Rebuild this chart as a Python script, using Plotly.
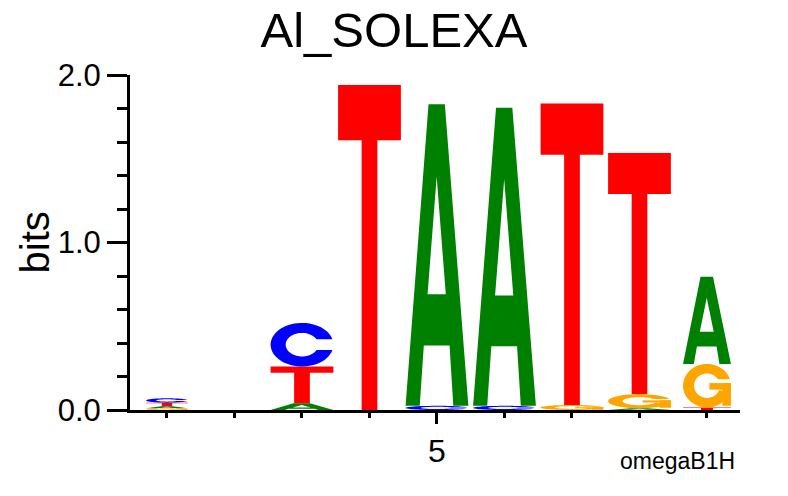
import numpy as np
import plotly.graph_objects as go

# ---------------- data ----------------
positions = [1, 2, 3, 4, 5, 6, 7, 8, 9]
col_width = [0.62, 0.93, 0.93, 0.93, 0.93, 0.93, 0.93, 0.93, 0.71]
bits_A = [0.012, 0.0, 0.040, 0.0, 1.800, 1.780, 0.0, 0.010, 0.520]
bits_C = [0.026, 0.0, 0.260, 0.0, 0.025, 0.025, 0.0, 0.0, 0.0]
bits_G = [0.010, 0.0, 0.0, 0.0, 0.0, 0.0, 0.030, 0.085, 0.260]
bits_T = [0.022, 0.0, 0.220, 1.940, 0.0, 0.0, 1.800, 1.440, 0.015]
letter_colors = {"A": "#008000", "C": "#0000FF", "G": "#FFA500", "T": "#FF0000"}
title_text = "Al_SOLEXA"
y_ticks = [0.0, 1.0, 2.0]
x_label_ticks = [5]
footer = "omegaB1H"

# ---------------- glyph outlines in a unit box ----------------
def ring(a0, a1, rx_o, ry_o, rx_i, ry_i, ti0, ti1, n=60):
    to = np.linspace(a0, a1, n)
    ti = np.linspace(ti1, ti0, n)
    pts = [(0.5 + rx_o * np.cos(t), 0.5 + ry_o * np.sin(t)) for t in to]
    pts += [(0.5 + rx_i * np.cos(t), 0.5 + ry_i * np.sin(t)) for t in ti]
    return pts

def glyph(letter):
    if letter == "T":
        return [[[(0, 1), (1, 1), (1, 0.83), (0.625, 0.83), (0.625, 0),
                  (0.375, 0), (0.375, 0.83), (0, 0.83)]]]
    if letter == "A":
        outer = [(0, 0), (0.365, 1), (0.625, 1), (1, 0), (0.76, 0), (0.70, 0.20),
                 (0.29, 0.20), (0.225, 0)]
        hole = [(0.495, 0.76), (0.35, 0.37), (0.64, 0.37)]
        return [[outer, hole]]
    if letter == "C":
        g = 0.125
        ro, ri_x, ri_y = 0.5, 0.26, 0.27
        a0 = np.arcsin(g / ro)
        b0 = np.arcsin(g / ri_y)
        return [[ring(a0, 2 * np.pi - a0, ro, ro, ri_x, ri_y, b0, 2 * np.pi - b0)]]
    if letter == "G":
        g = 0.15
        ro, ri_x, ri_y = 0.5, 0.27, 0.28
        a0 = np.arcsin(g / ro)
        b0 = np.arcsin(g / ri_y)
        end = 2 * np.pi - 0.35
        r = ring(a0, end, ro, ro, ri_x, ri_y, b0, end)
        bar = [(0.55, 0.41), (1.0, 0.41), (1.0, 0.56), (0.55, 0.56)]
        stem = [(0.82, 0.04), (1.0, 0.04), (1.0, 0.56), (0.82, 0.56)]
        return [[r], [bar], [stem]]
    return []

def to_path(polys, xc, w, y0, h):
    parts = []
    for poly in polys:
        coords = [f"{xc - w / 2 + u * w:.5f},{y0 + v * h:.5f}" for u, v in poly]
        parts.append("M" + " L".join(coords) + " Z")
    return " ".join(parts)

shapes = []
for i, pos in enumerate(positions):
    stack = [("A", bits_A[i]), ("C", bits_C[i]), ("G", bits_G[i]), ("T", bits_T[i])]
    stack = sorted([s for s in stack if s[1] > 0], key=lambda s: s[1])
    y0 = 0.0
    for letter, h in stack:
        for polys in glyph(letter):
            shapes.append(dict(type="path", xref="x", yref="y",
                               path=to_path(polys, pos, col_width[i], y0, h),
                               fillcolor=letter_colors[letter], line=dict(width=0),
                               fillrule="evenodd", layer="above"))
        y0 += h

fig = go.Figure()
fig.add_trace(go.Scatter(x=[positions[0]], y=[0], mode="markers",
                         marker=dict(opacity=0), hoverinfo="skip", showlegend=False))

font = "Liberation Sans, Arial, sans-serif"
fig.update_layout(
    width=788, height=496,
    margin=dict(l=130, r=48, t=75, b=86),
    plot_bgcolor="white", paper_bgcolor="white",
    shapes=shapes,
    showlegend=False,
    title=dict(text=title_text, x=0.5, xref="container", xanchor="center",
               y=1 - 30 / 496, yref="container", yanchor="middle",
               font=dict(family=font, size=49, color="black")),
    xaxis=dict(range=[0.452, 9.489], showgrid=False, zeroline=False,
               showline=True, linecolor="black", linewidth=3,
               tickmode="array", tickvals=x_label_ticks,
               ticktext=[str(v) for v in x_label_ticks],
               ticks="outside", ticklen=11, tickwidth=3, tickcolor="black",
               tickfont=dict(family=font, size=32, color="black"),
               minor=dict(tickmode="array", tickvals=positions, ticks="outside",
                          ticklen=5, tickwidth=3, tickcolor="black", showgrid=False),
               fixedrange=True),
    yaxis=dict(range=[0, 2.0], showgrid=False, zeroline=False,
               showline=True, linecolor="black", linewidth=3,
               tickmode="array", tickvals=y_ticks, ticktext=[f"{v:.1f}" for v in y_ticks],
               ticks="outside", ticklen=20, tickwidth=3, tickcolor="black",
               tickfont=dict(family=font, size=31, color="black"),
               minor=dict(dtick=0.2, tick0=0, ticks="outside", ticklen=10,
                          tickwidth=3, tickcolor="black", showgrid=False),
               fixedrange=True),
    annotations=[
        dict(text="bits", xref="paper", yref="paper", x=(34 - 130) / 610, y=0.5,
             xanchor="center", yanchor="middle", textangle=-90, showarrow=False,
             font=dict(family=font, size=40, color="black")),
        dict(text=footer, xref="paper", yref="paper", x=(737 - 130) / 610,
             y=(410 - 461) / 335, xanchor="right", yanchor="middle", showarrow=False,
             font=dict(family=font, size=23, color="black")),
    ],
)

fig.write_html("out.html", config={"displayModeBar": False},
               post_script="document.body.style.margin='0';")
